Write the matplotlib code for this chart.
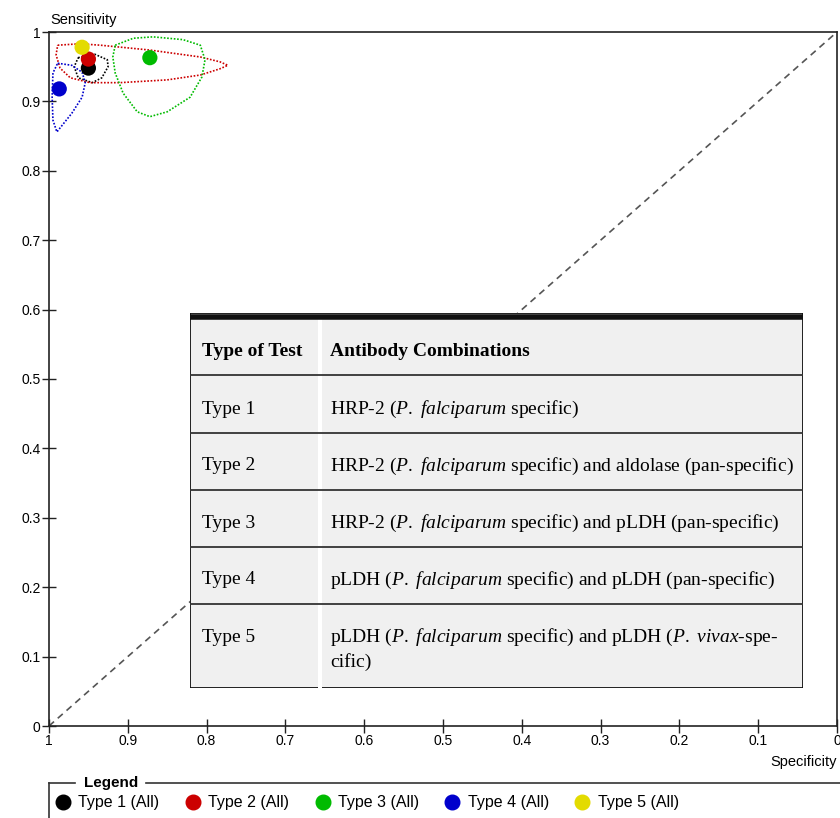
import matplotlib.pyplot as plt
from matplotlib.lines import Line2D
from matplotlib.patches import Rectangle

plt.rcParams['font.family'] = ['Liberation Sans', 'DejaVu Sans']
plt.rcParams['mathtext.fontset'] = 'custom'
plt.rcParams['mathtext.rm'] = 'Liberation Serif'
plt.rcParams['mathtext.it'] = 'Liberation Serif:italic'

# summary points (specificity, sensitivity)
types = ['Type 1', 'Type 2', 'Type 3', 'Type 4', 'Type 5']
colors = ['#000000', '#cc0000', '#00bb00', '#0000cc', '#e3db00']
spec = [0.950, 0.950, 0.872, 0.987, 0.958]
sens = [0.948, 0.961, 0.963, 0.918, 0.978]

# confidence regions (dotted)
region1_spec = [0.963, 0.942, 0.926, 0.925, 0.933, 0.945, 0.963, 0.968]
region1_sens = [0.963, 0.968, 0.960, 0.950, 0.934, 0.927, 0.934, 0.950]
region2_spec = [0.989, 0.961, 0.935, 0.872, 0.808, 0.783, 0.773, 0.783, 0.808, 0.850,
                0.910, 0.948, 0.973, 0.986, 0.991]
region2_sens = [0.981, 0.983, 0.981, 0.974, 0.964, 0.957, 0.952, 0.947, 0.938, 0.931,
                0.927, 0.927, 0.934, 0.948, 0.967]
region3_spec = [0.916, 0.893, 0.868, 0.830, 0.808, 0.802, 0.806, 0.821, 0.850, 0.872,
                0.888, 0.906, 0.916, 0.919]
region3_sens = [0.981, 0.991, 0.993, 0.989, 0.981, 0.960, 0.935, 0.906, 0.885, 0.878,
                0.885, 0.912, 0.941, 0.964]
region4_spec = [0.989, 0.971, 0.958, 0.954, 0.958, 0.971, 0.990, 0.995, 0.996, 0.995]
region4_sens = [0.955, 0.952, 0.942, 0.927, 0.906, 0.883, 0.856, 0.873, 0.906, 0.941]
regions = [(region1_spec, region1_sens, colors[0]),
           (region2_spec, region2_sens, colors[1]),
           (region3_spec, region3_sens, colors[2]),
           (region4_spec, region4_sens, colors[3])]

ticks = [0, 0.1, 0.2, 0.3, 0.4, 0.5, 0.6, 0.7, 0.8, 0.9, 1]
tick_labels = ['0', '0.1', '0.2', '0.3', '0.4', '0.5', '0.6', '0.7', '0.8', '0.9', '1']

table_head = ['Type of Test', 'Antibody Combinations']
pf = r'($\mathit{P.}$ $\mathit{falciparum}$ specific)'
table_desc = [
    ['HRP-2 ' + pf],
    ['HRP-2 ' + pf + ' and aldolase (pan-specific)'],
    ['HRP-2 ' + pf + ' and pLDH (pan-specific)'],
    ['pLDH ' + pf + ' and pLDH (pan-specific)'],
    ['pLDH ' + pf + r' and pLDH ($\mathit{P.}$ $\mathit{vivax}$-spe-', 'cific)'],
]

W, H = 840, 818
fig = plt.figure(figsize=(W / 100, H / 100), dpi=100)
ax = fig.add_axes([49 / W, 1 - 726 / H, 788 / W, 694 / H])

ax.plot([1, 0], [0, 1], ls=(0, (4, 3)), color='#555555', lw=1.2, zorder=1)
for rx, ry, c in regions:
    ax.plot(rx + rx[:1], ry + ry[:1], ls=(0, (1, 1)), color=c, lw=1.2, zorder=2)
ax.scatter(spec, sens, s=120, c=colors, zorder=3, edgecolors='none')

ax.set_xlim(1, 0)
ax.set_ylim(0, 1)
ax.set_xticks(ticks)
ax.set_xticklabels(tick_labels)
ax.set_yticks(ticks)
ax.set_yticklabels(tick_labels)
ax.tick_params(direction='inout', length=10, width=1, labelsize=10, color='#222222', pad=1)
for sp in ax.spines.values():
    sp.set_color('#222222')
    sp.set_linewidth(1.2)

fig.text(50 / W, 1 - 20 / H, 'Sensitivity', fontsize=10.5, va='center', ha='left')
fig.text(837 / W, 1 - 762 / H, 'Specificity', fontsize=10.5, va='center', ha='right')

# table overlay, pixel coordinates
tx0, ty0, tw, th = 190, 313, 613, 375
tab = fig.add_axes([tx0 / W, 1 - (ty0 + th) / H, tw / W, th / H])
tab.set_xlim(0, tw)
tab.set_ylim(th, 0)
tab.axis('off')
tab.set_zorder(5)
tab.add_patch(Rectangle((0, 0), tw, th, facecolor='#f0f0f0', edgecolor='#111111', lw=1.3))
tab.add_patch(Rectangle((128, 6), 4, th - 6, facecolor='white', edgecolor='none'))
tab.plot([0, tw], [4, 4], color='#111111', lw=4, solid_capstyle='butt')
row_lines = [62, 120, 177, 234, 291]
for yl in row_lines:
    tab.plot([0, tw], [yl, yl], color='#333333', lw=1.3)

serif = 'Liberation Serif'
fs = 14
tab.text(12, 39, table_head[0], family=serif, fontweight='bold', fontsize=fs, va='center')
tab.text(140, 39, table_head[1], family=serif, fontweight='bold', fontsize=fs, va='center')
row_y = [96, 153, 210, 267, 324]
for t, lines, yy in zip(types, table_desc, row_y):
    tab.text(12, yy, t, family=serif, fontsize=fs, va='center')
    for k, line in enumerate(lines):
        tab.text(140, yy + 25 * k, line, family=serif, fontsize=fs, va='center')

# legend with titled frame
fig.add_artist(Line2D([49 / W, 75 / W], [1 - 783 / H] * 2, color='#333333', lw=1.2))
fig.add_artist(Line2D([146 / W, 1], [1 - 783 / H] * 2, color='#333333', lw=1.2))
fig.add_artist(Line2D([49 / W, 49 / W], [1 - 783 / H, 0], color='#333333', lw=1.2))
fig.text(111 / W, 1 - 783 / H, 'Legend', fontsize=11, fontweight='bold', ha='center', va='center')
handles = [Line2D([], [], marker='o', ls='none', color=c, markersize=10.5) for c in colors]
fig.legend(handles, [t + ' (All)' for t in types], loc='center left',
           bbox_to_anchor=(55 / W, 1 - 803 / H), ncol=5, frameon=False, fontsize=11.5,
           handlelength=1, handletextpad=0.45, columnspacing=1.6, borderpad=0, borderaxespad=0)

fig.savefig('out.png', dpi=100)
